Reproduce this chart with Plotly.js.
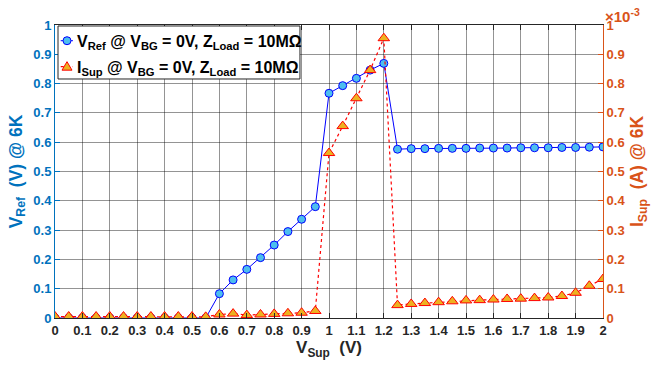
<!DOCTYPE html>
<html><head><meta charset="utf-8">
<script src="https://cdn.plot.ly/plotly-3.0.1.min.js"></script>
<style>html,body{margin:0;padding:0;background:#fff}#chart{width:655px;height:370px}</style>
</head><body><div id="chart"></div>
<script>
// Supply voltage (V)
const vSup = [0,0.05,0.1,0.15,0.2,0.25,0.3,0.35,0.4,0.45,0.5,0.55,0.6,0.65,0.7,0.75,0.8,0.85,0.9,0.95,
  1.0,1.05,1.1,1.15,1.2,1.25,1.3,1.35,1.4,1.45,1.5,1.55,1.6,1.65,1.7,1.75,1.8,1.85,1.9,1.95,2.0];
// Reference voltage (V) @ 6K
const vRef = [0,0,0,0,0,0,0,0,0,0,0,0,0.083,0.130,0.166,0.206,0.249,0.295,0.337,0.380,
  0.767,0.793,0.818,0.846,0.869,0.576,0.578,0.578,0.579,0.579,0.579,0.580,0.580,0.580,0.581,0.581,0.581,0.582,0.582,0.583,0.584];
// Supply current (x10^-3 A) @ 6K
const iSup = [0.005,0.005,0.005,0.005,0.005,0.005,0.005,0.005,0.005,0.005,0.005,0.004,0.012,0.015,0.010,0.012,0.014,0.016,0.018,0.024,
  0.563,0.655,0.750,0.846,0.955,0.044,0.048,0.051,0.054,0.057,0.060,0.061,0.063,0.065,0.066,0.068,0.070,0.075,0.086,0.110,0.133];
const xTicks = [0,0.1,0.2,0.3,0.4,0.5,0.6,0.7,0.8,0.9,1,1.1,1.2,1.3,1.4,1.5,1.6,1.7,1.8,1.9,2];
const xTickText = ['0','0.1','0.2','0.3','0.4','0.5','0.6','0.7','0.8','0.9','1','1.1','1.2','1.3','1.4','1.5','1.6','1.7','1.8','1.9','2'];
const yTicks = [0,0.1,0.2,0.3,0.4,0.5,0.6,0.7,0.8,0.9,1];
const yTickText = ['0','0.1','0.2','0.3','0.4','0.5','0.6','0.7','0.8','0.9','1'];
const seriesNames = ['V<sub>Ref</sub> @ V<sub>BG</sub> = 0V, Z<sub>Load</sub> = 10MΩ',
                     'I<sub>Sup</sub> @ V<sub>BG</sub> = 0V, Z<sub>Load</sub> = 10MΩ'];

const FONT = 'Liberation Sans, Arial, sans-serif';
const BLUE = '#0072BD', ORANGE = '#D95319', DARK = '#262626', GRID = 'rgba(0,0,0,0.42)';
const LBLUE = '#0000FF', LRED = '#FF0000', FBLUE = '#4DBEEE', FORANGE = '#EDB120';

const traces = [
  {x: vSup, y: vRef, yaxis: 'y', type: 'scatter', mode: 'lines+markers', name: seriesNames[0],
   line: {color: LBLUE, width: 1},
   marker: {symbol: 'circle', size: 8, color: FBLUE, line: {color: LBLUE, width: 1}}},
  {x: vSup, y: iSup, yaxis: 'y2', type: 'scatter', mode: 'lines+markers', name: seriesNames[1],
   line: {color: LRED, width: 1.2, dash: 'dot'},
   marker: {symbol: 'triangle-up', size: 10, color: FORANGE, line: {color: LRED, width: 1}}}
];

// legend geometry (paper fractions)
const lgX0 = 0.0055, lgX1 = 0.447, lgY0 = 0.8157, lgY1 = 0.9966;
const rowY = [0.9464, 0.8578];
const smpX0 = 0.0104, smpX1 = 0.0328, smpXm = 0.0219, txtX = 0.0365;

const shapes = [
  {type: 'rect', xref: 'paper', yref: 'paper', x0: lgX0, x1: lgX1, y0: lgY0, y1: lgY1,
   line: {color: DARK, width: 1}, fillcolor: '#fff', layer: 'above'},
  {type: 'line', xref: 'paper', yref: 'paper', x0: smpX0, x1: smpX1, y0: rowY[0], y1: rowY[0],
   line: {color: LBLUE, width: 1}},
  {type: 'line', xref: 'paper', yref: 'paper', x0: smpX0, x1: smpX1, y0: rowY[1], y1: rowY[1],
   line: {color: LRED, width: 1.2, dash: 'dot'}},
  {type: 'circle', xref: 'paper', yref: 'paper', xsizemode: 'pixel', ysizemode: 'pixel',
   xanchor: smpXm, yanchor: rowY[0], x0: -4, x1: 4, y0: -4, y1: 4,
   fillcolor: FBLUE, line: {color: LBLUE, width: 1}},
  {type: 'path', xref: 'paper', yref: 'paper', xsizemode: 'pixel', ysizemode: 'pixel',
   xanchor: smpXm, yanchor: rowY[1], path: 'M-5,-3.5 L5,-3.5 L0,5 Z',
   fillcolor: FORANGE, line: {color: LRED, width: 1}}
];

const annotations = [
  {xref: 'paper', yref: 'paper', x: 1.0, y: 1.0, xanchor: 'left', yanchor: 'bottom',
   text: '×10<sup>-3</sup>', showarrow: false, font: {family: FONT, size: 15, color: ORANGE}, xshift: 0, yshift: -2},
  {xref: 'paper', yref: 'paper', x: txtX, y: rowY[0], xanchor: 'left', yanchor: 'middle', text: seriesNames[0],
   showarrow: false, font: {family: FONT, size: 16, color: '#000', weight: 'bold'}, yshift: -2},
  {xref: 'paper', yref: 'paper', x: txtX, y: rowY[1], xanchor: 'left', yanchor: 'middle', text: seriesNames[1],
   showarrow: false, font: {family: FONT, size: 16, color: '#000', weight: 'bold'}, yshift: -2}
];

const layout = {
  width: 655, height: 370,
  margin: {l: 55, r: 52, t: 25, b: 52},
  paper_bgcolor: '#fff', plot_bgcolor: '#fff',
  font: {family: FONT, size: 13, color: DARK, weight: 'bold'},
  showlegend: false,
  xaxis: {range: [0, 2], tickvals: xTicks, ticktext: xTickText, showgrid: true, gridcolor: GRID, gridwidth: 1,
    zeroline: false, showline: true, linecolor: DARK, linewidth: 1, mirror: 'ticks',
    ticks: 'inside', ticklen: 5, tickcolor: DARK, tickfont: {size: 13, color: DARK, weight: 'bold'},
    title: {text: 'V<sub>Sup</sub>  (V)', font: {size: 17, color: DARK, weight: 'bold'}, standoff: 4}},
  yaxis: {range: [0, 1], tickvals: yTicks, ticktext: yTickText, showgrid: true, gridcolor: GRID, gridwidth: 1,
    zeroline: false, showline: true, linecolor: BLUE, linewidth: 1,
    ticks: 'inside', ticklen: 5, tickcolor: BLUE, tickfont: {size: 13, color: BLUE, weight: 'bold'},
    title: {text: 'V<sub>Ref</sub>  (V) @ 6K', font: {size: 17.5, color: BLUE, weight: 'bold'}, standoff: 6}},
  yaxis2: {range: [0, 1], overlaying: 'y', side: 'right', tickvals: yTicks, ticktext: yTickText,
    showgrid: false, zeroline: false, showline: true, linecolor: ORANGE, linewidth: 1,
    ticks: 'inside', ticklen: 5, tickcolor: ORANGE, tickfont: {size: 13, color: ORANGE, weight: 'bold'},
    title: {text: 'I<sub>Sup</sub>  (A) @ 6K', font: {size: 17.5, color: ORANGE, weight: 'bold'}, standoff: 6}},
  shapes: shapes,
  annotations: annotations
};

Plotly.newPlot('chart', traces, layout, {displayModeBar: false, staticPlot: true});
</script>
</body></html>
